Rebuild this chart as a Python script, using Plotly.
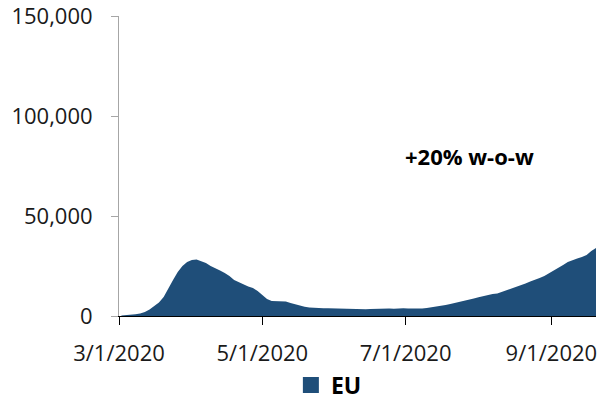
import pandas as pd
import plotly.graph_objects as go

# Daily new cases in the EU, sampled every second day from 2 March 2020
start_date = "2020-03-02"
step_days = 2
eu_cases = [
    300, 400, 600, 900, 1300, 2000, 3200, 4800, 6800, 9500,
    14000, 18000, 22000, 25000, 27000, 28000, 28300, 27500, 26500, 25000,
    24000, 22800, 21500, 20000, 18000, 16800, 15800, 14800, 14000, 12500,
    10500, 8500, 7500, 7300, 7300, 7200, 6500, 5800, 5200, 4600,
    4300, 4100, 4000, 3900, 3900, 3800, 3700, 3800, 3600, 3500,
    3600, 3500, 3400, 3500, 3600, 3400, 3500, 3700, 3600, 3800,
    3900, 3800, 3700, 3600, 3700, 4000, 4300, 4700, 5100, 5500,
    6000, 6500, 7000, 7600, 8200, 8800, 9400, 10000, 10500, 11000,
    11200, 12000, 12800, 13600, 14400, 15200, 16200, 17200, 18000, 19000,
    20000, 21300, 22500, 24000, 25500, 27000, 28000, 28800, 29500, 30500,
    32500, 34000,
]
dates = pd.date_range(start_date, periods=len(eu_cases), freq=f"{step_days}D")

series_name = "EU"
annotation_text = "+20% w-o-w"
x_tick_dates = ["2020-03-01", "2020-05-01", "2020-07-01", "2020-09-01"]
x_tick_labels = ["3/1/2020", "5/1/2020", "7/1/2020", "9/1/2020"]
y_tick_values = [0, 50000, 100000, 150000]
y_tick_labels = ["0", "50,000", "100,000", "150,000"]

fill_color = "#1F4E79"
font_family = "Open Sans, Liberation Sans, sans-serif"

fig = go.Figure()
fig.add_trace(go.Scatter(
    x=dates, y=eu_cases, mode="lines", fill="tozeroy",
    line=dict(color=fill_color, width=0), fillcolor=fill_color,
    showlegend=False, hoverinfo="x+y",
))
# square legend swatch
fig.add_trace(go.Scatter(
    x=[None], y=[None], mode="markers", name=f"<b>{series_name}</b>",
    marker=dict(symbol="square", size=16, color=fill_color),
))

fig.add_annotation(
    x="2020-07-28", y=80000, text=f"<b>{annotation_text}</b>",
    showarrow=False, font=dict(size=22, color="#000000", family=font_family),
)

fig.update_layout(
    width=600, height=402,
    margin=dict(l=119, r=4, t=16, b=86, autoexpand=False),
    paper_bgcolor="white", plot_bgcolor="white",
    font=dict(family=font_family, color="#1a1a1a", size=22),
    legend=dict(
        orientation="h", x=0.44, y=-0.23, xanchor="center", yanchor="middle",
        font=dict(size=23, color="#000000", family=font_family),
        itemwidth=30, tracegroupgap=0,
    ),
    hovermode=False,
)
fig.update_xaxes(
    range=["2020-03-01", "2020-09-20"],
    tickvals=x_tick_dates, ticktext=x_tick_labels,
    showgrid=False, zeroline=False,
    showline=True, linecolor="#000000", linewidth=1,
    ticks="outside", ticklen=8, tickcolor="#000000",
    ticklabelstandoff=10, ticklabeloverflow="allow",
    tickfont=dict(size=22, color="#1a1a1a"),
)
fig.update_yaxes(
    range=[0, 150000],
    tickvals=y_tick_values, ticktext=y_tick_labels,
    showgrid=False, zeroline=False,
    showline=True, linecolor="#a6a6a6", linewidth=1,
    ticks="outside", ticklen=7, tickcolor="#a6a6a6",
    ticklabelstandoff=14, ticklabeloverflow="allow",
    tickfont=dict(size=22, color="#1a1a1a"),
)

fig.write_html("out.html")
